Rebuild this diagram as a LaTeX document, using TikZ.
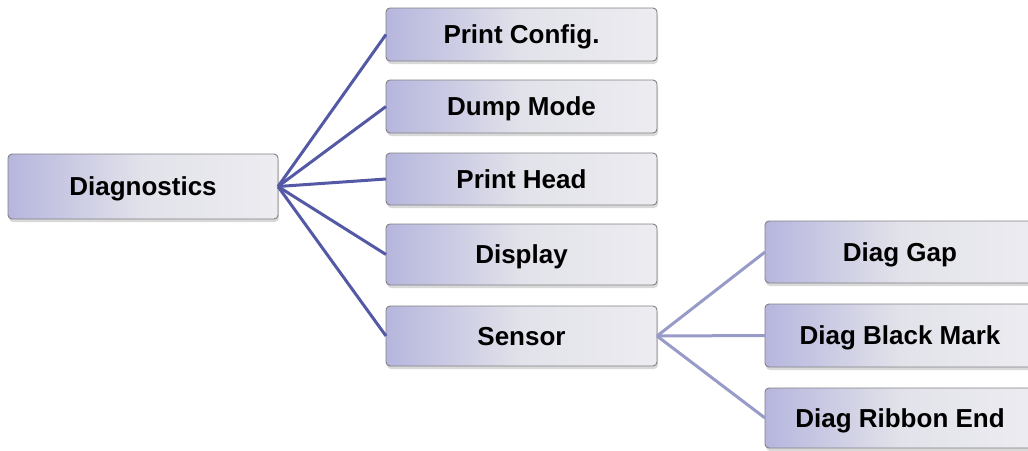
\documentclass[tikz,border=0pt]{standalone}
\usepackage{fontspec}
\setmainfont{Liberation Sans}
\usetikzlibrary{shadows}
\definecolor{boxL}{RGB}{182,182,222}
\definecolor{boxM}{RGB}{226,226,234}
\definecolor{boxR}{RGB}{236,236,241}
\definecolor{lineD}{RGB}{84,89,166}
\definecolor{lineL}{RGB}{152,155,200}
\definecolor{boxBorder}{RGB}{128,128,132}
\tikzset{
  menubox/.style={rectangle, rounded corners=4pt, draw=boxBorder, line width=0.9pt,
    left color=boxL, right color=boxR, middle color=boxM,
    inner sep=0pt, outer sep=0pt, align=center,
    font=\fontsize{26}{30}\selectfont\bfseries,
    text height=18.6pt, text depth=0pt,
    drop shadow={shadow xshift=1pt, shadow yshift=-3pt, opacity=0.25, fill=black!60}},
  darkconn/.style={draw=lineD, line width=3pt},
  lightconn/.style={draw=lineL, line width=3pt}
}
\begin{document}
\begin{tikzpicture}[x=1pt, y=-1pt]
\useasboundingbox (0,0) rectangle (1028,450);
\clip (0,0) rectangle (1028,450);
\node[menubox, minimum width=270pt, minimum height=65pt] (diag) at (143,186.5) {Diagnostics};
\node[menubox, minimum width=271pt, minimum height=53pt] (pc) at (521.5,34.5) {Print Config.};
\node[menubox, minimum width=271pt, minimum height=53pt] (dm) at (521.5,106.5) {Dump Mode};
\node[menubox, minimum width=271pt, minimum height=52pt] (ph) at (521.5,179) {Print Head};
\node[menubox, minimum width=271pt, minimum height=61pt] (disp) at (521.5,254.5) {Display};
\node[menubox, minimum width=271pt, minimum height=60pt] (sens) at (521.5,336) {Sensor};
\node[menubox, minimum width=270pt, minimum height=62pt] (gap) at (900,252) {Diag Gap};
\node[menubox, minimum width=270pt, minimum height=63pt] (bm) at (900,335.5) {Diag Black Mark};
\node[menubox, minimum width=270pt, minimum height=60pt] (re) at (900,418) {Diag Ribbon End};
\foreach \t in {pc,dm,ph,disp,sens}
  \draw[darkconn] (diag.east) -- (\t.west);
\foreach \t in {gap,bm,re}
  \draw[lightconn] (sens.east) -- (\t.west);
\end{tikzpicture}
\end{document}
